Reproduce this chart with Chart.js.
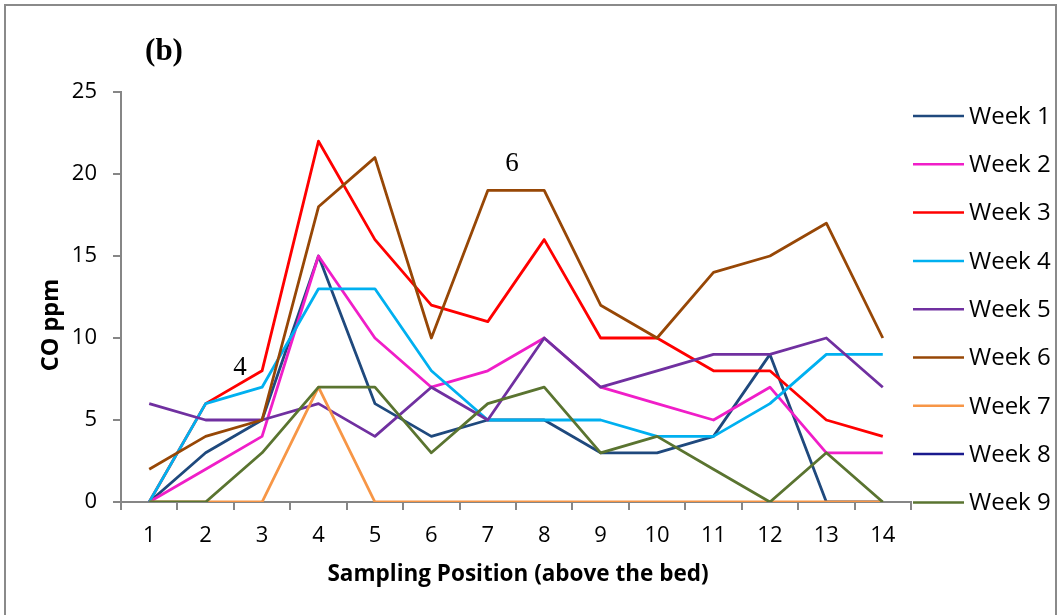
<!DOCTYPE html>
<html>
<head>
<meta charset="utf-8">
<script src="https://cdn.jsdelivr.net/npm/chart.js@4.4.1/dist/chart.umd.min.js"></script>
<style>
  html, body { margin: 0; padding: 0; background: #ffffff; }
  #wrap { position: relative; width: 1058px; height: 615px; }
</style>
</head>
<body>
<div id="wrap"><canvas id="chart" width="1058" height="615"></canvas></div>
<script>
// Sampling positions above the bed
const positions = ['1', '2', '3', '4', '5', '6', '7', '8', '9', '10', '11', '12', '13', '14'];

// CO concentration (ppm) per week
const week1 = [0, 3, 5, 15, 6, 4, 5, 5, 3, 3, 4, 9, 0, 0];
const week2 = [0, 2, 4, 15, 10, 7, 8, 10, 7, 6, 5, 7, 3, 3];
const week3 = [0, 6, 8, 22, 16, 12, 11, 16, 10, 10, 8, 8, 5, 4];
const week4 = [0, 6, 7, 13, 13, 8, 5, 5, 5, 4, 4, 6, 9, 9];
const week5 = [6, 5, 5, 6, 4, 7, 5, 10, 7, 8, 9, 9, 10, 7];
const week6 = [2, 4, 5, 18, 21, 10, 19, 19, 12, 10, 14, 15, 17, 10];
const week7 = [0, 0, 0, 7, 0, 0, 0, 0, 0, 0, 0, 0, 0, 0];
const week8 = [null, null, null, null, null, null, null, null, null, null, null, null, null, null];
const week9 = [0, 0, 3, 7, 7, 3, 6, 7, 3, 4, 2, 0, 3, 0];

const seriesNames = ['Week 1', 'Week 2', 'Week 3', 'Week 4', 'Week 5', 'Week 6', 'Week 7', 'Week 8', 'Week 9'];
const seriesValues = [week1, week2, week3, week4, week5, week6, week7, week8, week9];
const seriesColors = ['#1F497D', '#F01EC8', '#FF0000', '#00B0F0', '#7030A0', '#974706', '#F79646', '#1A1A8E', '#5A7430'];

const yTicks = [0, 5, 10, 15, 20, 25];

const AXIS_GREY = '#868686';
const SANS = "'Open Sans', 'Liberation Sans', sans-serif";
const SERIF = "'Liberation Serif', 'DejaVu Serif', serif";

// Frame, axis titles, panel label, annotations and legend
const decorations = {
  id: 'decorations',
  beforeDraw(chart) {
    const ctx = chart.ctx;
    ctx.save();
    ctx.fillStyle = '#ffffff';
    ctx.fillRect(0, 0, chart.width, chart.height);
    ctx.restore();
  },
  afterDraw(chart) {
    const ctx = chart.ctx;
    const x = chart.scales.x, y = chart.scales.y;
    ctx.save();

    // outer frame (open at the bottom)
    ctx.strokeStyle = '#8a8a8a';
    ctx.lineWidth = 2;
    ctx.beginPath();
    ctx.moveTo(5, 620);
    ctx.lineTo(5, 5);
    ctx.lineTo(1056, 5);
    ctx.lineTo(1056, 620);
    ctx.stroke();

    // panel label
    ctx.fillStyle = '#000';
    ctx.textAlign = 'center';
    ctx.textBaseline = 'middle';
    ctx.font = "bold 31px " + SERIF;
    ctx.fillText('(b)', 164, 52);

    // week annotations
    ctx.font = "27px " + SERIF;
    ctx.fillText('4', x.getPixelForValue(2) - 22, y.getPixelForValue(8.2));
    ctx.fillText('6', (x.getPixelForValue(6) + x.getPixelForValue(7)) / 2 - 4, y.getPixelForValue(20.6));

    // axis titles
    ctx.font = "bold 22.5px " + SANS;
    ctx.fillText('Sampling Position (above the bed)', 518, 575);
    ctx.save();
    ctx.translate(51, 325);
    ctx.rotate(-Math.PI / 2);
    ctx.font = "bold 23.5px " + SANS;
    ctx.fillText('CO ppm', 0, 0);
    ctx.restore();

    // legend
    ctx.font = "24px " + SANS;
    ctx.textAlign = 'left';
    chart.data.datasets.forEach((ds, i) => {
      const ly = 116 + i * 48.3;
      ctx.strokeStyle = ds.borderColor;
      ctx.lineWidth = 2.5;
      ctx.beginPath();
      ctx.moveTo(913, ly);
      ctx.lineTo(964, ly);
      ctx.stroke();
      ctx.fillStyle = '#000';
      ctx.fillText(ds.label, 969, ly + 1);
    });

    ctx.restore();
  }
};

const datasets = seriesNames.map((name, i) => ({
  label: name,
  data: seriesValues[i],
  borderColor: seriesColors[i],
  backgroundColor: seriesColors[i],
  borderWidth: 2.8,
  pointRadius: 0,
  pointHoverRadius: 0,
  tension: 0,
  fill: false,
  spanGaps: false,
  borderJoinStyle: 'round',
  order: seriesNames.length - i
}));

new Chart(document.getElementById('chart'), {
  type: 'line',
  data: { labels: positions, datasets },
  plugins: [decorations],
  options: {
    responsive: false,
    animation: false,
    events: [],
    layout: { padding: { left: 0, top: 92, right: 147, bottom: 0 } },
    plugins: {
      legend: { display: false },
      tooltip: { enabled: false },
      title: { display: false }
    },
    scales: {
      x: {
        type: 'category',
        offset: true,
        grid: {
          display: true,
          offset: true,
          drawOnChartArea: false,
          drawTicks: true,
          tickLength: 8,
          color: AXIS_GREY,
          lineWidth: 2
        },
        border: { display: true, color: AXIS_GREY, width: 2 },
        ticks: {
          color: '#000',
          font: { family: SANS, size: 22 },
          padding: 13,
          maxRotation: 0,
          autoSkip: false
        },
        afterFit(scale) { scale.height = 113; }
      },
      y: {
        min: 0,
        max: 25,
        afterBuildTicks(scale) { scale.ticks = yTicks.map(v => ({ value: v })); },
        grid: {
          display: true,
          drawOnChartArea: false,
          drawTicks: true,
          tickLength: 8,
          color: AXIS_GREY,
          lineWidth: 2
        },
        border: { display: true, color: AXIS_GREY, width: 2 },
        ticks: {
          color: '#000',
          font: { family: SANS, size: 22 },
          padding: 16
        },
        afterFit(scale) { scale.width = 121; }
      }
    }
  }
});
</script>
</body>
</html>
